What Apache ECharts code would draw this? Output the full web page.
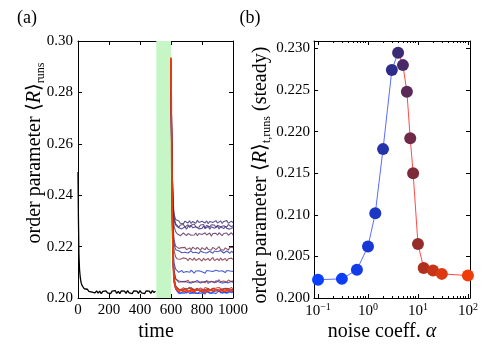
<!DOCTYPE html>
<html>
<head>
<meta charset="utf-8">
<script src="https://cdn.jsdelivr.net/npm/echarts@6/dist/echarts.min.js"></script>
<style>
  html, body { margin: 0; padding: 0; background: #fff; }
  #chart { width: 490px; height: 360px; }
</style>
</head>
<body>
<div id="chart"></div>
<script>
  // (a) time series, black = before the noise pulse
  const blackTime = [0, 3, 6, 10, 15, 20, 25, 30, 40, 50, 60, 70, 80, 90, 100, 110, 120, 130, 140, 150, 160, 170, 180, 190, 200,
    210, 220, 230, 240, 250, 260, 270, 280, 290, 300, 310, 320, 330, 340, 350, 360, 370, 380, 390, 400,
    410, 420, 430, 440, 450, 460, 470, 480, 490, 500];
  const blackR = [0.2490, 0.2300, 0.2170, 0.2110, 0.2078, 0.2060, 0.2050, 0.2044, 0.2036, 0.2030, 0.2034, 0.2026, 0.2032, 0.2023, 0.2030,
    0.2020, 0.2028, 0.2019, 0.2027, 0.2017, 0.2026, 0.2019, 0.2028, 0.2020, 0.2025, 0.2017, 0.2027, 0.2021, 0.2029, 0.2018,
    0.2026, 0.2017, 0.2028, 0.2021, 0.2027, 0.2018, 0.2029, 0.2020, 0.2026, 0.2017, 0.2028, 0.2021, 0.2027, 0.2018, 0.2029,
    0.2020, 0.2026, 0.2017, 0.2028, 0.2021, 0.2027, 0.2018, 0.2029, 0.2021, 0.2026];
  const pulse = [505, 600];

  // runs after the pulse, one per noise coefficient
  const afterTime = [600, 605, 610, 615, 620, 630, 640, 650, 660, 670, 680, 690, 700, 710, 720, 730, 740, 750, 760, 770, 780, 790, 800,
    810, 820, 830, 840, 850, 860, 870, 880, 890, 900, 910, 920, 930, 940, 950, 960, 970, 980, 990, 1000];
  const runA0p1 = [0.2880, 0.2500, 0.2250, 0.2120, 0.2065, 0.2035, 0.2028, 0.2018, 0.2025, 0.2020, 0.2027, 0.2019, 0.2022, 0.2026, 0.2017,
    0.2024, 0.2021, 0.2028, 0.2019, 0.2023, 0.2018, 0.2025, 0.2020, 0.2027, 0.2016, 0.2024, 0.2022, 0.2019, 0.2026, 0.2021, 0.2025,
    0.2017, 0.2024, 0.2028, 0.2020, 0.2018, 0.2023, 0.2025, 0.2019, 0.2027, 0.2021, 0.2020, 0.2024];
  const runA0p3 = [0.2870, 0.2490, 0.2245, 0.2118, 0.2064, 0.2036, 0.2026, 0.2026, 0.2018, 0.2024, 0.2027, 0.2022, 0.2019, 0.2025, 0.2029,
    0.2020, 0.2024, 0.2021, 0.2027, 0.2018, 0.2025, 0.2026, 0.2022, 0.2019, 0.2028, 0.2021, 0.2024, 0.2027, 0.2017, 0.2025, 0.2022,
    0.2026, 0.2020, 0.2028, 0.2023, 0.2019, 0.2025, 0.2022, 0.2027, 0.2020, 0.2024, 0.2028, 0.2021];
  const runA0p6 = [0.2875, 0.2495, 0.2255, 0.2128, 0.2075, 0.2047, 0.2042, 0.2033, 0.2039, 0.2030, 0.2035, 0.2036, 0.2029, 0.2037, 0.2032,
    0.2040, 0.2033, 0.2031, 0.2036, 0.2038, 0.2030, 0.2035, 0.2032, 0.2039, 0.2031, 0.2034, 0.2037, 0.2029, 0.2036, 0.2038, 0.2032,
    0.2033, 0.2039, 0.2030, 0.2036, 0.2035, 0.2031, 0.2038, 0.2032, 0.2037, 0.2029, 0.2035, 0.2034];
  const runA1 = [0.2880, 0.2505, 0.2270, 0.2150, 0.2100, 0.2073, 0.2067, 0.2066, 0.2059, 0.2064, 0.2057, 0.2065, 0.2063, 0.2060, 0.2067,
    0.2058, 0.2064, 0.2062, 0.2059, 0.2068, 0.2061, 0.2058, 0.2065, 0.2063, 0.2060, 0.2066, 0.2057, 0.2064, 0.2065, 0.2061, 0.2059,
    0.2067, 0.2060, 0.2062, 0.2066, 0.2058, 0.2064, 0.2061, 0.2067, 0.2059, 0.2063, 0.2065, 0.2060];
  const runA1p4 = [0.2885, 0.2515, 0.2290, 0.2180, 0.2135, 0.2112, 0.2109, 0.2100, 0.2101, 0.2107, 0.2099, 0.2105, 0.2103, 0.2098, 0.2100,
    0.2108, 0.2104, 0.2097, 0.2105, 0.2101, 0.2106, 0.2099, 0.2102, 0.2104, 0.2096, 0.2107, 0.2100, 0.2105, 0.2098, 0.2103, 0.2099,
    0.2108, 0.2101, 0.2104, 0.2097, 0.2106, 0.2102, 0.2099, 0.2107, 0.2100, 0.2105, 0.2098, 0.2103];
  const runA2 = [0.2890, 0.2550, 0.2350, 0.2250, 0.2210, 0.2188, 0.2182, 0.2184, 0.2180, 0.2176, 0.2183, 0.2178, 0.2181, 0.2175, 0.2179,
    0.2184, 0.2176, 0.2182, 0.2178, 0.2181, 0.2173, 0.2183, 0.2180, 0.2177, 0.2184, 0.2175, 0.2178, 0.2182, 0.2181, 0.2174, 0.2183,
    0.2177, 0.2180, 0.2176, 0.2185, 0.2181, 0.2175, 0.2178, 0.2183, 0.2180, 0.2174, 0.2182, 0.2177];
  const runA3 = [0.2900, 0.2600, 0.2440, 0.2345, 0.2305, 0.2284, 0.2283, 0.2273, 0.2280, 0.2269, 0.2275, 0.2277, 0.2268, 0.2278, 0.2271,
    0.2282, 0.2273, 0.2270, 0.2277, 0.2279, 0.2269, 0.2275, 0.2271, 0.2280, 0.2270, 0.2274, 0.2278, 0.2268, 0.2277, 0.2279, 0.2271,
    0.2273, 0.2280, 0.2269, 0.2277, 0.2275, 0.2270, 0.2279, 0.2271, 0.2278, 0.2268, 0.2275, 0.2274];
  const runA4 = [0.2905, 0.2610, 0.2455, 0.2365, 0.2325, 0.2305, 0.2300, 0.2300, 0.2291, 0.2298, 0.2289, 0.2299, 0.2296, 0.2292, 0.2301,
    0.2290, 0.2298, 0.2295, 0.2291, 0.2303, 0.2294, 0.2290, 0.2299, 0.2296, 0.2292, 0.2300, 0.2289, 0.2298, 0.2299, 0.2294, 0.2291,
    0.2301, 0.2292, 0.2295, 0.2300, 0.2290, 0.2298, 0.2294, 0.2301, 0.2291, 0.2296, 0.2299, 0.2292];
  const runA5 = [0.2910, 0.2605, 0.2445, 0.2352, 0.2312, 0.2290, 0.2286, 0.2275, 0.2284, 0.2277, 0.2286, 0.2276, 0.2280, 0.2285, 0.2274,
    0.2283, 0.2279, 0.2288, 0.2276, 0.2281, 0.2275, 0.2284, 0.2277, 0.2286, 0.2272, 0.2283, 0.2280, 0.2276, 0.2285, 0.2279, 0.2284,
    0.2274, 0.2283, 0.2288, 0.2277, 0.2275, 0.2281, 0.2284, 0.2276, 0.2286, 0.2279, 0.2277, 0.2283];
  const runA6 = [0.2915, 0.2590, 0.2415, 0.2320, 0.2280, 0.2258, 0.2250, 0.2252, 0.2242, 0.2249, 0.2253, 0.2247, 0.2243, 0.2251, 0.2256,
    0.2244, 0.2249, 0.2245, 0.2253, 0.2242, 0.2251, 0.2252, 0.2247, 0.2243, 0.2254, 0.2245, 0.2249, 0.2253, 0.2240, 0.2251, 0.2247,
    0.2252, 0.2244, 0.2254, 0.2248, 0.2243, 0.2251, 0.2247, 0.2253, 0.2244, 0.2249, 0.2254, 0.2245];
  const runA7 = [0.2920, 0.2560, 0.2365, 0.2265, 0.2225, 0.2202, 0.2197, 0.2193, 0.2186, 0.2196, 0.2189, 0.2197, 0.2188, 0.2193, 0.2195,
    0.2187, 0.2198, 0.2191, 0.2189, 0.2197, 0.2195, 0.2186, 0.2196, 0.2192, 0.2188, 0.2198, 0.2189, 0.2193, 0.2187, 0.2197, 0.2195,
    0.2188, 0.2191, 0.2200, 0.2189, 0.2196, 0.2186, 0.2195, 0.2193, 0.2187, 0.2198, 0.2191, 0.2196];
  const runA8 = [0.2925, 0.2545, 0.2330, 0.2225, 0.2183, 0.2160, 0.2152, 0.2154, 0.2151, 0.2146, 0.2156, 0.2149, 0.2153, 0.2145, 0.2155,
    0.2150, 0.2147, 0.2156, 0.2146, 0.2149, 0.2154, 0.2153, 0.2144, 0.2155, 0.2147, 0.2151, 0.2154, 0.2145, 0.2149, 0.2158, 0.2146,
    0.2150, 0.2153, 0.2145, 0.2156, 0.2147, 0.2151, 0.2154, 0.2144, 0.2153, 0.2146, 0.2155, 0.2150];
  const runA10 = [0.2928, 0.2520, 0.2285, 0.2160, 0.2105, 0.2077, 0.2071, 0.2061, 0.2068, 0.2063, 0.2070, 0.2062, 0.2065, 0.2069, 0.2060,
    0.2067, 0.2064, 0.2071, 0.2062, 0.2066, 0.2061, 0.2068, 0.2063, 0.2070, 0.2059, 0.2067, 0.2065, 0.2062, 0.2069, 0.2064, 0.2068,
    0.2060, 0.2067, 0.2071, 0.2063, 0.2061, 0.2066, 0.2068, 0.2062, 0.2070, 0.2064, 0.2063, 0.2067];
  const runA13 = [0.2930, 0.2510, 0.2265, 0.2135, 0.2078, 0.2048, 0.2039, 0.2039, 0.2031, 0.2037, 0.2040, 0.2035, 0.2032, 0.2038, 0.2042,
    0.2033, 0.2037, 0.2034, 0.2040, 0.2031, 0.2038, 0.2039, 0.2035, 0.2032, 0.2041, 0.2034, 0.2037, 0.2040, 0.2030, 0.2038, 0.2035,
    0.2039, 0.2033, 0.2041, 0.2036, 0.2032, 0.2038, 0.2035, 0.2040, 0.2033, 0.2037, 0.2041, 0.2034];
  const runA20 = [0.2932, 0.2505, 0.2258, 0.2128, 0.2073, 0.2044, 0.2041, 0.2032, 0.2038, 0.2029, 0.2034, 0.2035, 0.2028, 0.2036, 0.2031,
    0.2039, 0.2032, 0.2030, 0.2035, 0.2037, 0.2029, 0.2034, 0.2031, 0.2038, 0.2030, 0.2033, 0.2036, 0.2028, 0.2035, 0.2037, 0.2031,
    0.2032, 0.2038, 0.2029, 0.2035, 0.2034, 0.2030, 0.2037, 0.2031, 0.2036, 0.2028, 0.2034, 0.2033];
  const runA30 = [0.2934, 0.2500, 0.2252, 0.2122, 0.2068, 0.2040, 0.2034, 0.2033, 0.2026, 0.2031, 0.2024, 0.2032, 0.2030, 0.2027, 0.2034,
    0.2025, 0.2031, 0.2029, 0.2026, 0.2035, 0.2028, 0.2025, 0.2032, 0.2030, 0.2027, 0.2033, 0.2024, 0.2031, 0.2032, 0.2028, 0.2026,
    0.2034, 0.2027, 0.2029, 0.2033, 0.2025, 0.2031, 0.2028, 0.2034, 0.2026, 0.2030, 0.2032, 0.2027];
  const runA100 = [0.2936, 0.2495, 0.2245, 0.2115, 0.2062, 0.2037, 0.2034, 0.2025, 0.2026, 0.2032, 0.2024, 0.2030, 0.2028, 0.2023, 0.2025,
    0.2033, 0.2029, 0.2022, 0.2030, 0.2026, 0.2031, 0.2024, 0.2027, 0.2029, 0.2021, 0.2032, 0.2025, 0.2030, 0.2023, 0.2028, 0.2024,
    0.2033, 0.2026, 0.2029, 0.2022, 0.2031, 0.2027, 0.2024, 0.2032, 0.2025, 0.2030, 0.2023, 0.2028];
  const runs = [runA0p1, runA0p3, runA0p6, runA1, runA1p4, runA2, runA3, runA4, runA5, runA6, runA7, runA8, runA10, runA13, runA20, runA30, runA100];

  // (b) steady state vs noise coefficient
  const alphas = [0.1, 0.3, 0.6, 1, 1.4, 2, 3, 4, 5, 6, 7, 8, 10, 13, 20, 30, 100];
  const steadyR = [0.2022, 0.2023, 0.2034, 0.2062, 0.2102, 0.2179, 0.2274, 0.2295, 0.2280, 0.2248, 0.2192, 0.2150, 0.2065, 0.2036, 0.2033, 0.2029, 0.2027];
  const runColors = ['#0a40ff', '#0c3ef6', '#123ce8', '#1838d6', '#1e36c4', '#2632a8', '#2e2c8a', '#3a2a74', '#4a2a66', '#5a2a58',
    '#6e2a48', '#7e2a38', '#962c2a', '#b0301f', '#c83418', '#dc3812', '#f03c08'];
  const peakIndex = 7;
  const minorAlphas = [0.2, 0.3, 0.4, 0.5, 0.6, 0.7, 0.8, 0.9, 2, 3, 4, 5, 6, 7, 8, 9, 20, 30, 40, 50, 60, 70, 80, 90];

  const font = 'Liberation Serif';
  const supDigits = {'-1': '−1', '0': '0', '1': '1', '2': '2'};

  let chart = echarts.init(document.getElementById('chart'));

  function frame(extra) {
    return Object.assign({
      axisLine: {show: true, onZero: false, lineStyle: {color: '#000', width: 1}},
      axisTick: {show: true, inside: true, length: 4, lineStyle: {color: '#000', width: 1}},
      axisLabel: {show: false},
      splitLine: {show: false}
    }, extra);
  }
  let label = {show: true, color: '#000', fontFamily: font, fontSize: 15};

  let series = [{
    type: 'line',
    xAxisIndex: 0, yAxisIndex: 0,
    data: blackTime.map((t, i) => [t, blackR[i]]),
    showSymbol: false,
    lineStyle: {color: '#000', width: 1.3},
    markArea: {
      silent: true,
      itemStyle: {color: '#c6f6c6'},
      data: [[{xAxis: pulse[0]}, {xAxis: pulse[1]}]]
    },
    z: 1
  }];

  runs.forEach((r, k) => {
    let last = k === runs.length - 1;
    series.push({
      type: 'line',
      xAxisIndex: 0, yAxisIndex: 0,
      data: afterTime.map((t, i) => [t, r[i]]),
      showSymbol: false,
      lineStyle: {color: runColors[k], width: last ? 1.6 : 1.1, opacity: last ? 1 : 0.8},
      z: 2
    });
  });

  series.push({
    type: 'line',
    xAxisIndex: 2, yAxisIndex: 2,
    data: alphas.slice(0, peakIndex + 1).map((a, i) => [a, steadyR[i]]),
    showSymbol: false,
    lineStyle: {color: '#5a6cff', width: 1}
  }, {
    type: 'line',
    xAxisIndex: 2, yAxisIndex: 2,
    data: alphas.slice(peakIndex).map((a, i) => [a, steadyR[i + peakIndex]]),
    showSymbol: false,
    lineStyle: {color: '#ff4a4a', width: 1}
  }, {
    type: 'scatter',
    xAxisIndex: 2, yAxisIndex: 2,
    symbolSize: 12,
    data: alphas.map((a, i) => ({value: [a, steadyR[i]], itemStyle: {color: runColors[i], opacity: 1}})),
    z: 5
  });

  let minorTicks = minorAlphas.map(a => Math.log10(a));
  let richName = {
    n: {fontFamily: font, fontSize: 20, lineHeight: 24, fill: '#000'},
    i: {fontFamily: font, fontSize: 20, lineHeight: 24, fontStyle: 'italic', fill: '#000'},
    s: {fontFamily: font, fontSize: 12, lineHeight: 12, verticalAlign: 'bottom', fill: '#000'}
  };

  let option = {
    animation: false,
    backgroundColor: '#fff',
    grid: [
      {left: 78, top: 41, width: 155, height: 257, outerBoundsMode: 'none'},
      {left: 314, top: 41, width: 156, height: 257, outerBoundsMode: 'none'}
    ],
    xAxis: [
      frame({gridIndex: 0, type: 'value', position: 'bottom', min: 0, max: 1000, interval: 200,
        axisLabel: Object.assign({margin: 5, formatter: v => String(v)}, label)}),
      frame({gridIndex: 0, type: 'value', position: 'top', min: 0, max: 1000, interval: 200}),
      frame({gridIndex: 1, type: 'log', logBase: 10, position: 'bottom', min: 0.083, max: 110,
        axisLabel: Object.assign({margin: 4, showMinLabel: false, showMaxLabel: false,
          formatter: v => {
            let e = Math.round(Math.log10(v));
            return '{b|10}{e|' + supDigits[e] + '}';
          },
          rich: {
            b: {fontFamily: font, fontSize: 15, lineHeight: 18, color: '#000'},
            e: {fontFamily: font, fontSize: 10, lineHeight: 10, verticalAlign: 'top', color: '#000'}
          }}, label)}),
      frame({gridIndex: 1, type: 'log', logBase: 10, position: 'top', min: 0.083, max: 110}),
      frame({gridIndex: 1, type: 'value', position: 'bottom', min: Math.log10(0.083), max: Math.log10(110),
        axisLine: {show: false},
        axisTick: {show: true, inside: true, length: 2, customValues: minorTicks, lineStyle: {color: '#000', width: 1}}}),
      frame({gridIndex: 1, type: 'value', position: 'top', min: Math.log10(0.083), max: Math.log10(110),
        axisLine: {show: false},
        axisTick: {show: true, inside: true, length: 2, customValues: minorTicks, lineStyle: {color: '#000', width: 1}}})
    ],
    yAxis: [
      frame({gridIndex: 0, type: 'value', position: 'left', min: 0.2, max: 0.3, interval: 0.02,
        axisLabel: Object.assign({margin: 5, formatter: v => v.toFixed(2)}, label)}),
      frame({gridIndex: 0, type: 'value', position: 'right', min: 0.2, max: 0.3, interval: 0.02}),
      frame({gridIndex: 1, type: 'value', position: 'left', min: 0.2, max: 0.2309, interval: 0.005,
        axisLabel: Object.assign({margin: 4, showMaxLabel: false, formatter: v => v.toFixed(3)}, label)}),
      frame({gridIndex: 1, type: 'value', position: 'right', min: 0.2, max: 0.2309, interval: 0.005})
    ],
    graphic: [
      {type: 'text', x: 27, y: 18, style: {text: '(a)', font: '18px ' + font, fill: '#000', align: 'center', verticalAlign: 'middle'}},
      {type: 'text', x: 250, y: 18, style: {text: '(b)', font: '18px ' + font, fill: '#000', align: 'center', verticalAlign: 'middle'}},
      {type: 'text', x: 156, y: 332, style: {text: 'time', font: '20px ' + font, fill: '#000', align: 'center', verticalAlign: 'middle'}},
      {type: 'text', x: 382, y: 332, style: {
        text: '{n|noise coeff. }{i|α}', align: 'center', verticalAlign: 'middle', rich: richName}},
      {type: 'text', x: 35, y: 153, rotation: Math.PI / 2, style: {
        text: '{n|order parameter ⟨}{i|R}{n|⟩}{s|runs}', align: 'center', verticalAlign: 'middle', rich: richName}},
      {type: 'text', x: 261, y: 175, rotation: Math.PI / 2, style: {
        text: '{n|order parameter ⟨}{i|R}{n|⟩}{s|t,runs}{n| (steady)}', align: 'center', verticalAlign: 'middle', rich: richName}}
    ],
    series: series
  };

  chart.setOption(option);
</script>
</body>
</html>
